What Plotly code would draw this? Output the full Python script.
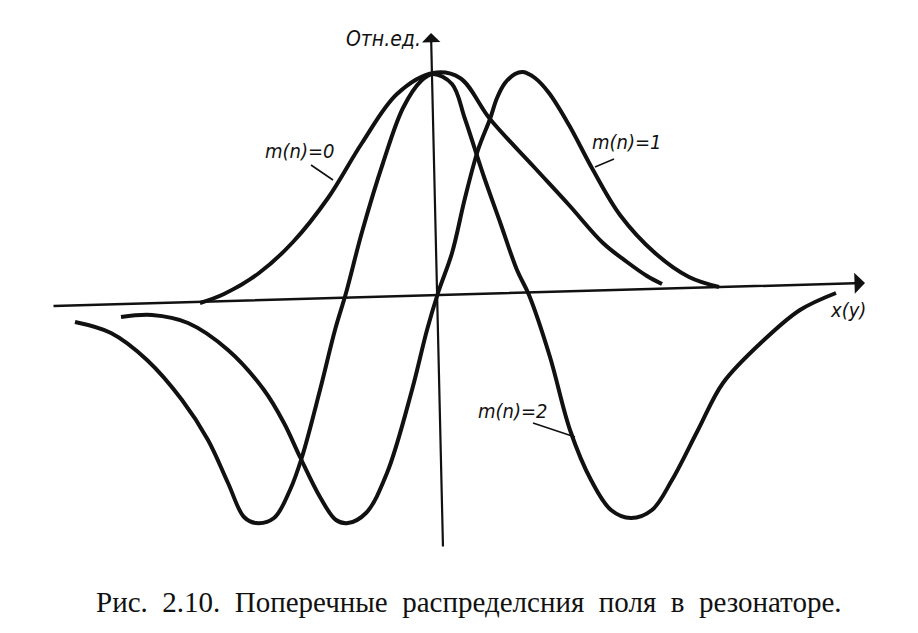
import plotly.graph_objects as go

# Curves (relative units; origin at the axis crossing)
m0_x = [-2.37, -2.13, -1.78, -1.44, -1.09, -0.75, -0.40, -0.04, 0.23, 0.53, 0.97, 1.32, 1.66, 1.90, 2.10, 2.25]
m0_y = [-0.08, 0.01, 0.22, 0.53, 0.97, 1.52, 2.01, 2.22, 2.17, 1.76, 1.28, 0.90, 0.52, 0.33, 0.19, 0.11]

m1_x = [-3.16, -2.85, -2.49, -2.09, -1.73, -1.53, -1.37, -1.17, -1.01, -0.89, -0.71, -0.50, -0.25, -0.10,
        0.01, 0.15, 0.28, 0.41, 0.53, 0.60, 0.68, 0.78, 0.86, 0.98, 1.12, 1.32, 1.56, 1.83, 2.18, 2.52, 2.82]
m1_y = [-0.22, -0.20, -0.28, -0.55, -0.95, -1.28, -1.62, -2.02, -2.25, -2.28, -2.18, -1.78, -0.95, -0.35,
        0.02, 0.42, 0.97, 1.45, 1.76, 1.97, 2.12, 2.21, 2.23, 2.17, 2.02, 1.70, 1.25, 0.80, 0.42, 0.18, 0.08]

m2_x = [-3.62, -3.26, -2.90, -2.55, -2.29, -2.09, -1.93, -1.81, -1.63, -1.47, -1.35, -1.17, -1.02, -0.91,
        -0.75, -0.54, -0.34, -0.16, -0.04, 0.15, 0.28, 0.46, 0.63, 0.80, 0.92, 1.13, 1.33, 1.54, 1.74,
        1.94, 2.15, 2.35, 2.61, 2.86, 3.27, 3.63, 3.99]
m2_y = [-0.27, -0.38, -0.65, -1.05, -1.45, -1.88, -2.22, -2.28, -2.23, -1.95, -1.62, -0.95, -0.35, 0.02,
        0.63, 1.32, 1.87, 2.14, 2.21, 2.11, 1.76, 1.21, 0.73, 0.25, 0.00, -0.62, -1.35, -1.85, -2.15,
        -2.23, -2.15, -1.85, -1.35, -0.88, -0.45, -0.15, 0.02]

labels = ["m(n)=0", "m(n)=1", "m(n)=2"]
y_label = "Отн.ед."
x_label = "x(y)"
caption_words = ["Рис.", "2.10.", "Поперечные", "распределсния", "поля", "в", "резонаторе."]

INK = "#111111"
fig = go.Figure()
for xs, ys in [(m0_x, m0_y), (m1_x, m1_y), (m2_x, m2_y)]:
    fig.add_trace(go.Scatter(x=xs, y=ys, mode="lines",
                             line=dict(color=INK, width=4, shape="spline", smoothing=1.0),
                             hoverinfo="skip", showlegend=False))

hand = dict(family="Liberation Sans Narrow, DejaVu Sans Condensed, Arial Narrow, sans-serif",
            color=INK, style="italic")

ann = []
# axes with arrowheads
ann.append(dict(x=4.28, y=0.12, ax=-3.85, ay=-0.11, xref="x", yref="y", axref="x", ayref="y",
                text="", showarrow=True, arrowhead=1, arrowsize=1.4, arrowwidth=2.5, arrowcolor=INK))
ann.append(dict(x=-0.06, y=2.62, ax=0.06, ay=-2.53, xref="x", yref="y", axref="x", ayref="y",
                text="", showarrow=True, arrowhead=1, arrowsize=1.4, arrowwidth=2.2, arrowcolor=INK))
ann.append(dict(x=-0.54, y=2.56, text=y_label, showarrow=False, font=dict(size=21, **hand)))
ann.append(dict(x=4.11, y=-0.15, text=x_label, showarrow=False, font=dict(size=20, **hand)))
ann.append(dict(x=-1.37, y=1.44, text=labels[0], showarrow=False, font=dict(size=20, **hand)))
ann.append(dict(x=1.90, y=1.53, text=labels[1], showarrow=False, font=dict(size=20, **hand)))
ann.append(dict(x=0.76, y=-1.16, text=labels[2], showarrow=False, font=dict(size=20, **hand)))
ann.append(dict(x=0.32, y=-3.07, xref="x", yref="y", text=" \u00a0".join(caption_words), showarrow=False,
                font=dict(family="Liberation Serif, Times New Roman, serif", size=29, color=INK)))

shapes = []
for (x0, y0, x1, y1) in [(-1.26, 1.30, -1.04, 1.15), (1.77, 1.36, 1.58, 1.28), (0.96, -1.28, 1.38, -1.42)]:
    shapes.append(dict(type="line", xref="x", yref="y", x0=x0, y0=y0, x1=x1, y1=y1,
                       line=dict(color=INK, width=1.6)))

# page has an 8px body margin, so the figure is 910x625 placed at (8, 8)
fig.update_layout(width=910, height=625, margin=dict(l=0, r=0, t=0, b=0),
                  paper_bgcolor="white", plot_bgcolor="white",
                  xaxis=dict(range=[-4.29, 4.81], visible=False, fixedrange=True),
                  yaxis=dict(range=[-3.38, 2.87], visible=False, fixedrange=True),
                  annotations=ann, shapes=shapes)
fig.write_html("out.html")
